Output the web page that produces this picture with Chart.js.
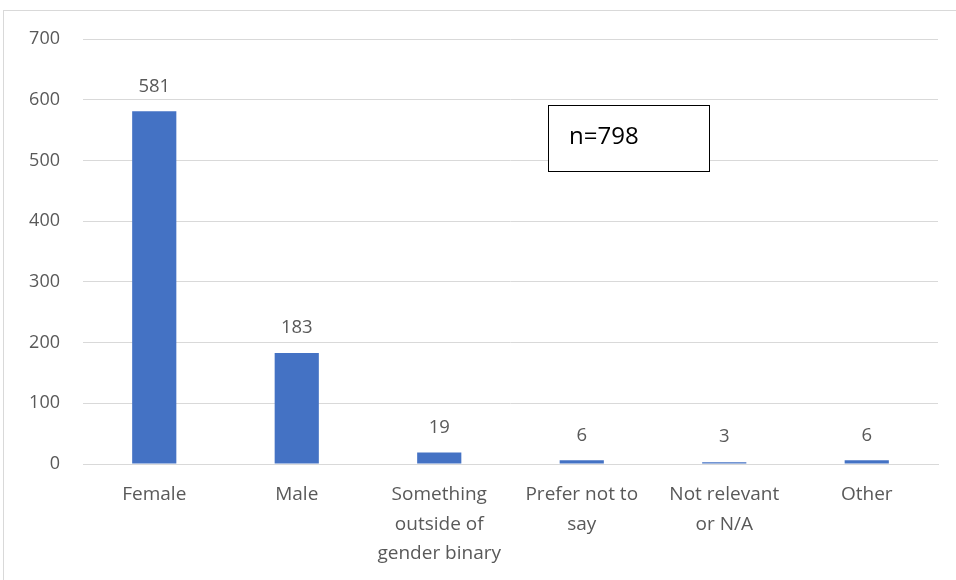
<!DOCTYPE html>
<html>
<head>
<meta charset="utf-8">
<script src="https://cdn.jsdelivr.net/npm/chart.js@4"></script>
<style>
  html, body { margin: 0; padding: 0; background: #fff; }
  #wrap { position: relative; width: 956px; height: 580px; overflow: hidden; }
  #frame { position: absolute; left: 3px; top: 10px; width: 960px; height: 600px; border: 1px solid #d9d9d9; box-sizing: border-box; }
  canvas { position: absolute; left: 0; top: 0; }
</style>
</head>
<body>
<div id="wrap">
  <div id="frame"></div>
  <canvas id="genderChart" width="956" height="580"></canvas>
</div>
<script>
// Respondents by gender
const categories = [
    'Female',
    'Male',
    ['Something', 'outside of', 'gender binary'],
    ['Prefer not to', 'say'],
    ['Not relevant', 'or N/A'],
    'Other'
];
const counts = [581, 183, 19, 6, 3, 6];
const sampleNote = 'n=798';

const FONT = "'Open Sans', 'Liberation Sans', sans-serif";
const TEXT = '#595959';

// value labels above each bar
const valueLabels = {
    id: 'valueLabels',
    afterDatasetsDraw(chart) {
        const { ctx } = chart;
        const meta = chart.getDatasetMeta(0);
        ctx.save();
        ctx.font = `18.5px ${FONT}`;
        ctx.fillStyle = TEXT;
        ctx.textAlign = 'center';
        ctx.textBaseline = 'middle';
        meta.data.forEach((bar, i) => {
            ctx.fillText(String(counts[i]), bar.x, bar.y - 25);
        });
        ctx.restore();
    }
};

// sample size text box
const noteBox = {
    id: 'noteBox',
    afterDraw(chart) {
        const { ctx } = chart;
        ctx.save();
        ctx.fillStyle = '#fff';
        ctx.fillRect(548, 105, 162, 67);
        ctx.strokeStyle = '#000';
        ctx.lineWidth = 1;
        ctx.strokeRect(548.5, 105.5, 161, 66);
        ctx.font = `24px ${FONT}`;
        ctx.fillStyle = '#000';
        ctx.textBaseline = 'middle';
        ctx.fillText(sampleNote, 569, 137);
        ctx.restore();
    }
};

new Chart(document.getElementById('genderChart'), {
    type: 'bar',
    data: {
        labels: categories,
        datasets: [{
            data: counts,
            backgroundColor: '#4472c4',
            barPercentage: 0.62,
            categoryPercentage: 0.5
        }]
    },
    options: {
        responsive: false,
        animation: false,
        layout: { padding: { left: 0, right: 18, top: 39, bottom: 0 } },
        plugins: {
            legend: { display: false },
            tooltip: { enabled: false }
        },
        scales: {
            x: {
                grid: { display: false, drawTicks: false },
                border: { color: '#d9d9d9', width: 1 },
                ticks: {
                    color: TEXT,
                    font: { family: FONT, size: 19, lineHeight: 1.55 },
                    padding: 16,
                    maxRotation: 0,
                    autoSkip: false
                },
                afterFit: (scale) => { scale.height = 116; }
            },
            y: {
                min: 0,
                max: 700,
                ticks: {
                    stepSize: 100,
                    color: TEXT,
                    font: { family: FONT, size: 18 },
                    padding: 23
                },
                grid: { color: '#d9d9d9', drawTicks: false },
                border: { display: false },
                afterFit: (scale) => { scale.width = 83; }
            }
        }
    },
    plugins: [valueLabels, noteBox]
});
</script>
</body>
</html>
